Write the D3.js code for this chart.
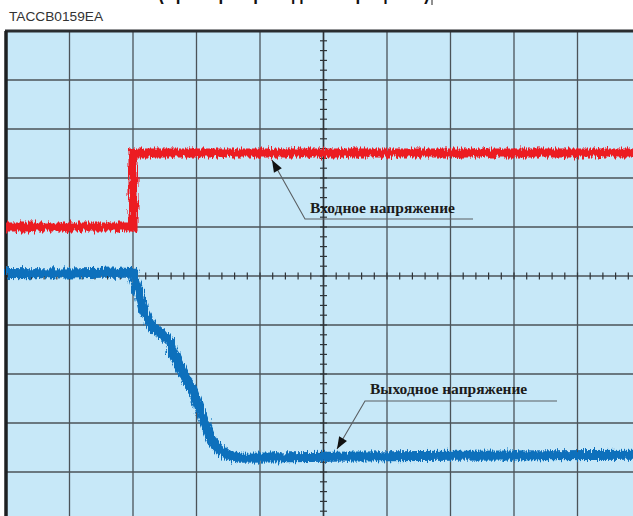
<!DOCTYPE html>
<html>
<head>
<meta charset="utf-8">
<script src="https://cdn.jsdelivr.net/npm/d3@7"></script>
<style>
  html, body { margin: 0; padding: 0; background: #fff; }
  svg { display: block; }
  .grid line { stroke: #4b5359; stroke-width: 1.3; }
  .minor line { stroke: #2f3438; stroke-width: 1.2; }
  .label { font-family: "Liberation Serif", "DejaVu Serif", serif; font-weight: bold; font-size: 15.5px; fill: #1b1b1b; }
  .leader { stroke: #5a5f63; stroke-width: 1.1; fill: none; }
</style>
</head>
<body>
<svg id="chart" width="633" height="516"></svg>
<script>
// screen divisions: time 0..10 div, amplitude -5..+5 div (0 = centre line)
const inputTime = [0, 2.0, 2.0, 10];
const inputLevel = [1.0, 1.0, 2.51, 2.51];

const outputTime = [0, 1.0, 1.7, 2.0, 2.08, 2.16, 2.27, 2.35, 2.47, 2.58, 2.66, 2.74, 2.82, 2.93, 3.02, 3.13, 3.24, 3.37, 3.48, 3.69, 5.1, 7.0, 10];
const outputLevel = [0.06, 0.05, 0.07, 0.06, -0.29, -0.69, -0.96, -1.10, -1.20, -1.35, -1.65, -1.86, -2.08, -2.29, -2.59, -3.00, -3.35, -3.55, -3.65, -3.71, -3.69, -3.67, -3.65];

const xDivs = d3.range(0, 11);
const yDivs = d3.range(-5, 6);
const captionId = "TACCB0159EA";
const titleText = "(Пример переходного процесса)";
const inputLabel = "Входное напряжение";
const outputLabel = "Выходное напряжение";

const svg = d3.select("#chart");
const x = d3.scaleLinear().domain([0, 10]).range([6, 641]);
const y = d3.scaleLinear().domain([-5, 5]).range([521, 31]);

// title, cropped by the top edge as in the source scan
svg.append("text")
    .attr("x", 158).attr("y", -1.5)
    .attr("textLength", 272).attr("lengthAdjust", "spacingAndGlyphs")
    .style("font-family", "Liberation Sans, Arial, sans-serif")
    .style("font-weight", "bold").style("font-size", "22px").style("fill", "#111")
    .text(titleText);
svg.append("line").attr("x1", 432).attr("x2", 432).attr("y1", 0).attr("y2", 5)
    .attr("stroke", "#222").attr("stroke-width", 1);

svg.append("text")
    .attr("x", 9).attr("y", 21)
    .attr("textLength", 94).attr("lengthAdjust", "spacingAndGlyphs")
    .style("font-family", "Liberation Sans, Arial, sans-serif")
    .style("font-size", "12px").style("fill", "#333")
    .text(captionId);

const defs = svg.append("defs");
const noise = defs.append("filter").attr("id", "noise")
    .attr("filterUnits", "userSpaceOnUse")
    .attr("x", 0).attr("y", 0).attr("width", 633).attr("height", 516);
noise.append("feTurbulence").attr("type", "fractalNoise")
    .attr("baseFrequency", "0.7 0.08").attr("numOctaves", 2).attr("seed", 7).attr("result", "turb");
noise.append("feDisplacementMap").attr("in", "SourceGraphic").attr("in2", "turb")
    .attr("scale", 9).attr("xChannelSelector", "R").attr("yChannelSelector", "G");

defs.append("marker").attr("id", "arrow")
    .attr("viewBox", "0 -5 12 10").attr("refX", 12).attr("refY", 0)
    .attr("markerUnits", "userSpaceOnUse")
    .attr("markerWidth", 14).attr("markerHeight", 10).attr("orient", "auto")
    .append("path").attr("d", "M0,-4.5L12,0L0,4.5Z").attr("fill", "#111");

// screen background
svg.append("rect")
    .attr("x", x(0)).attr("y", y(5))
    .attr("width", x(10) - x(0)).attr("height", y(-5) - y(5))
    .attr("fill", "#c7e8f8");

const grid = svg.append("g").attr("class", "grid");
grid.selectAll(".v").data(xDivs).join("line").attr("class", "v")
    .attr("x1", d => x(d)).attr("x2", d => x(d))
    .attr("y1", y(5)).attr("y2", y(-5));
grid.selectAll(".h").data(yDivs).join("line").attr("class", "h")
    .attr("x1", x(0)).attr("x2", x(10))
    .attr("y1", d => y(d)).attr("y2", d => y(d));

// centre graticule minor ticks, 5 per division
const minor = svg.append("g").attr("class", "minor");
minor.selectAll(".mx").data(d3.range(0, 50).map(i => i / 5)).join("line").attr("class", "mx")
    .attr("x1", d => x(d)).attr("x2", d => x(d))
    .attr("y1", y(0) - 3.5).attr("y2", y(0) + 3.5);
minor.selectAll(".my").data(d3.range(-25, 26).map(i => i / 5)).join("line").attr("class", "my")
    .attr("x1", x(5) - 3.5).attr("x2", x(5) + 3.5)
    .attr("y1", d => y(d)).attr("y2", d => y(d));
minor.append("line")
    .attr("x1", x(5)).attr("x2", x(5)).attr("y1", y(5)).attr("y2", y(-5))
    .style("stroke", "#2f3438").style("stroke-width", 1.5);

// frame edges (top and left are visible)
svg.append("line").attr("x1", x(0) - 1).attr("x2", 633).attr("y1", y(5)).attr("y2", y(5))
    .attr("stroke", "#2a2d30").attr("stroke-width", 3);
svg.append("line").attr("x1", x(0)).attr("x2", x(0)).attr("y1", y(5)).attr("y2", 516)
    .attr("stroke", "#1e2022").attr("stroke-width", 3.5);

const line = d3.line().x(d => x(d[0])).y(d => y(d[1]));
const traces = svg.append("g").attr("filter", "url(#noise)");
traces.append("path")
    .datum(d3.zip(inputTime, inputLevel))
    .attr("d", line)
    .attr("fill", "none").attr("stroke", "#ec1c24").attr("stroke-width", 9);
traces.append("path")
    .datum(d3.zip(outputTime, outputLevel))
    .attr("d", line)
    .attr("fill", "none").attr("stroke", "#0b6fbc").attr("stroke-width", 10)
    .attr("stroke-linejoin", "round");

// annotations
const notes = svg.append("g");
notes.append("polyline").attr("class", "leader")
    .attr("points", "473,219 305,219 272,160")
    .attr("marker-end", "url(#arrow)");
notes.append("text").attr("class", "label").attr("x", 310).attr("y", 213).text(inputLabel);

notes.append("polyline").attr("class", "leader")
    .attr("points", "557,401 365,401 337,449")
    .attr("marker-end", "url(#arrow)");
notes.append("text").attr("class", "label").attr("x", 370).attr("y", 394).text(outputLabel);
</script>
</body>
</html>
